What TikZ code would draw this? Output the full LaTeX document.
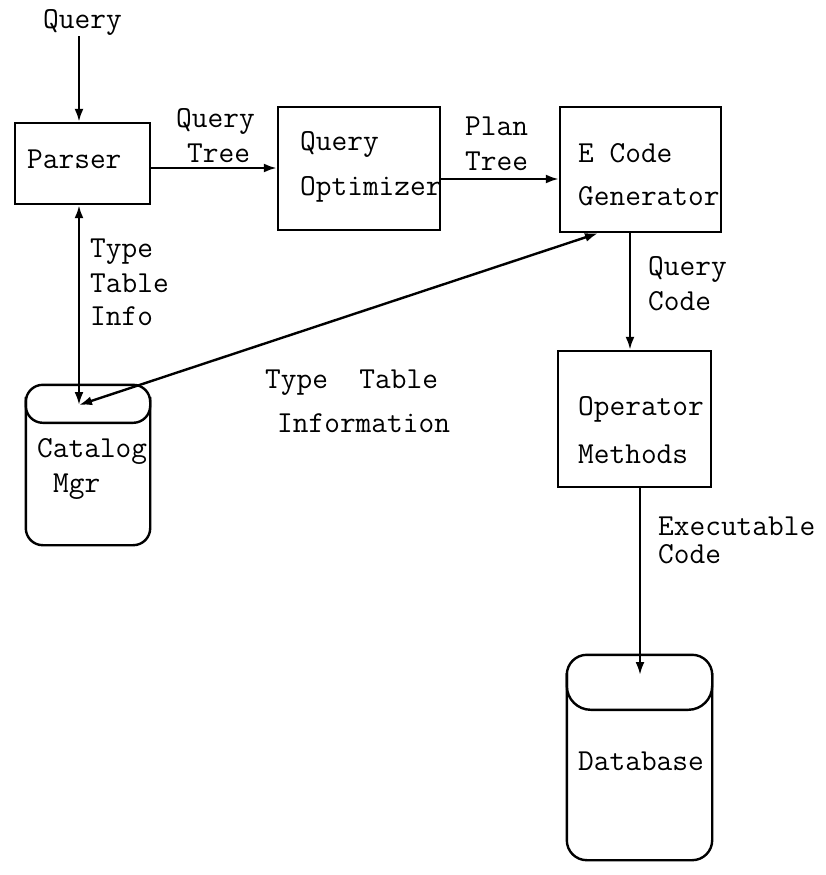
\documentclass[tikz,border=0pt]{standalone}
\usepackage{fontspec}
\usetikzlibrary{arrows.meta}
\begin{document}
\begin{tikzpicture}[x=1pt,y=-1pt,
  lbl/.style={font=\fontsize{30.5}{36}\selectfont\ttfamily, anchor=base west, inner sep=0pt},
  box/.style={draw, line width=2.4pt, inner sep=0pt},
  hold/.style={inner sep=0pt},
  arr/.style={line width=2.4pt, -{Latex[length=13pt,width=9pt]}},
  darr/.style={line width=2.4pt, {Latex[length=13pt,width=9pt]}-{Latex[length=13pt,width=9pt]}},
  cyl/.style={line width=2.4pt, rounded corners=17pt}]
\useasboundingbox (0,0) rectangle (825,875);

% boxes
\node[box, minimum width=135pt, minimum height=81pt]  (parser) at (82.5,163.5) {};
\node[box, minimum width=162pt, minimum height=123pt] (opt)    at (359,168.5) {};
\node[box, minimum width=161pt, minimum height=125pt] (ecode)  at (640.5,169.5) {};
\node[box, minimum width=153pt, minimum height=136pt] (oper)   at (634.5,419) {};

% cylinders
\node[hold, minimum width=124pt, minimum height=160pt] (catalog) at (88,465) {};
\draw[cyl] (catalog.south west) rectangle (catalog.north east);
\draw[cyl] ([yshift=-12pt]catalog.north west) -- ([yshift=-38pt]catalog.north west)
  -- ([yshift=-38pt]catalog.north east) -- ([yshift=-12pt]catalog.north east);
\node[hold, minimum width=145pt, minimum height=205pt] (db) at (639.5,757.5) {};
\draw[cyl, rounded corners=20pt] (db.south west) rectangle (db.north east);
\draw[cyl, rounded corners=24pt] ([yshift=-18pt]db.north west) -- ([yshift=-55pt]db.north west)
  -- ([yshift=-55pt]db.north east) -- ([yshift=-18pt]db.north east);
\coordinate (catin) at (79,405);
\coordinate (dbin) at (640,675);

% texts
\node[lbl] (qtop) at (43,29) {Query};
\node[lbl] (tparser) at (27,168) {Parser};
\node[lbl] (topt1) at (300,150) {Query};
\node[lbl] (topt2) at (300,195) {Optimizer};
\node[lbl] (tec1) at (578,162) {E Code};
\node[lbl] (tec2) at (578,205) {Generator};
\node[lbl] (top1) at (578,415) {Operator};
\node[lbl] (top2) at (578,463) {Methods};
\node[lbl] (tcat1) at (37,457) {Catalog};
\node[lbl] (tcat2) at (53,492) {Mgr};
\node[lbl] (tdb) at (578,770) {Database};

\node[lbl] (lqt1) at (176,127) {Query};
\node[lbl] (lqt2) at (187,162) {Tree};
\node[lbl] (lpt1) at (465,135) {Plan};
\node[lbl] (lpt2) at (465,170) {Tree};
\node[lbl] (lqc1) at (648,275) {Query};
\node[lbl] (lqc2) at (648,310) {Code};
\node[lbl] (lti1) at (90,257) {Type};
\node[lbl] (lti2) at (90,292) {Table};
\node[lbl] (lti3) at (90,325) {Info};
\node[lbl] (ltt1) at (265,388) {Type\ \ Table};
\node[lbl] (ltt2) at (277,432) {Information};
\node[lbl] (lex1) at (658,535) {Executable};
\node[lbl] (lex2) at (658,563) {Code};

% connectors
\draw[arr] ([xshift=-3.5pt]parser.north |- qtop.south) -- ([xshift=-3.5pt]parser.north);
\draw[arr] ([yshift=-4.5pt]parser.east) -- ([yshift=-4.5pt]parser.east -| opt.west);
\draw[arr] ([yshift=-10.5pt]opt.east) -- ([yshift=-10.5pt]opt.east -| ecode.west);
\draw[arr] ([xshift=-10.5pt]ecode.south) -- ([xshift=-10.5pt]ecode.south |- oper.north);
\draw[arr] (oper.south -| dbin) -- (dbin);
\draw[darr] (parser.south -| catin) -- (catin);
\draw[darr] ([xshift=-42.5pt]ecode.south) -- (catin);
\end{tikzpicture}
\end{document}
